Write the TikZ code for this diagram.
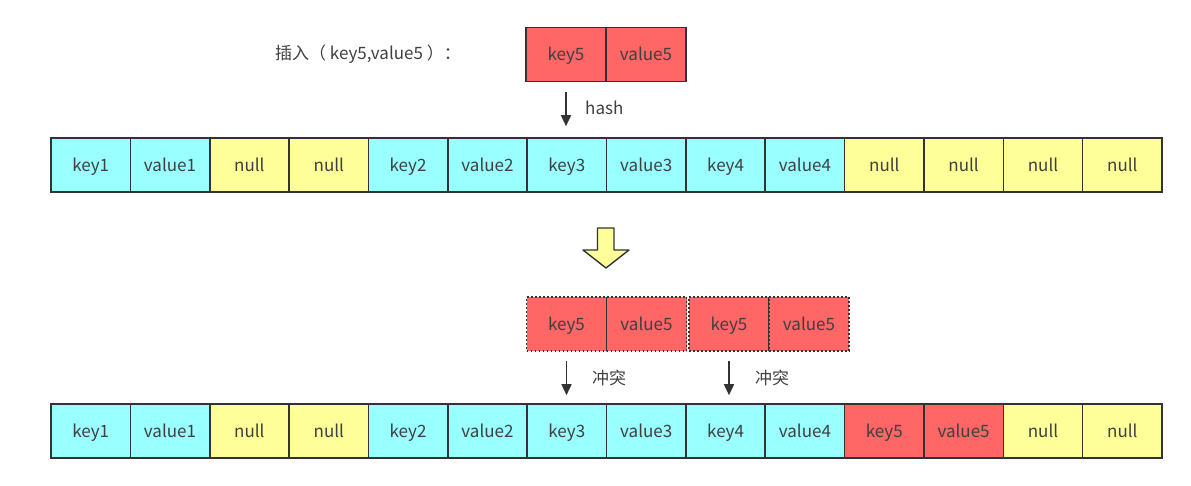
\documentclass[tikz,border=0pt]{standalone}
\usepackage{fontspec}
\setmainfont{Noto Sans CJK SC}
\usetikzlibrary{arrows.meta}
\definecolor{cellcyan}{HTML}{99FFFF}
\definecolor{cellyellow}{HTML}{FFFF99}
\definecolor{cellred}{HTML}{FF6666}
\definecolor{edge}{HTML}{333333}
\definecolor{ink}{HTML}{404040}
\tikzset{
  cell/.style = {draw = edge, line width = 1.6pt, minimum width = 79.4pt, minimum height = 54pt,
                 inner sep = 0pt, text = ink, text height = 13pt, text depth = 0pt,
                 font = \fontsize{17}{18}\selectfont},
  kv/.style   = {cell, fill = cellcyan},
  nul/.style  = {cell, fill = cellyellow},
  ins/.style  = {cell, fill = cellred, minimum width = 80pt},
  dot/.style  = {ins, line width = 1.8pt, dash pattern = on 1.8pt off 2.2pt},
  lbl/.style  = {text = ink, font = \fontsize{17}{18}\selectfont, inner sep = 0pt},
  down/.style = {draw = edge, line width = 1.6pt, -{Triangle[length = 11pt, width = 10pt]}}
}

\begin{document}
\begin{tikzpicture}[x = 1pt, y = -1pt]
		\useasboundingbox (0, 0) rectangle (1191, 486);
		%%%%%%%%%%%%%
		\node [lbl, anchor = west] (title) at (275, 54) {插入（ key5,value5 ）：};
		\node [ins] (tk) at (566, 54.5) {key5};
		\node [ins] (tv) at (646, 54.5) {value5};
		%%%%%%%%%%%%%
		\node [kv] (a1) at (90.7, 165) {key1};
		\node [kv] (a2) at (170.0, 165) {value1};
		\node [nul] (a3) at (249.4, 165) {null};
		\node [nul] (a4) at (328.8, 165) {null};
		\node [kv] (a5) at (408.1, 165) {key2};
		\node [kv] (a6) at (487.5, 165) {value2};
		\node [kv] (a7) at (566.8, 165) {key3};
		\node [kv] (a8) at (646.2, 165) {value3};
		\node [kv] (a9) at (725.6, 165) {key4};
		\node [kv] (a10) at (804.9, 165) {value4};
		\node [nul] (a11) at (884.3, 165) {null};
		\node [nul] (a12) at (963.6, 165) {null};
		\node [nul] (a13) at (1043.0, 165) {null};
		\node [nul] (a14) at (1122.3, 165) {null};
		%%%%%%%%%%%%%
		\draw [down] ([yshift = -10pt]tk.south) to ([yshift = 11pt]tk.south |- a7.north);
		\node [lbl, anchor = west] (hash) at (585, 108) {hash};
		%%%%%%%%%%%%% big arrow
		\draw [edge, fill = cellyellow, line width = 1.4pt, line join = round]
			(597.5, 228) -- (614, 228) -- (614, 250) -- (629, 250) -- (606, 268)
			-- (583, 250) -- (597.5, 250) -- cycle;
		%%%%%%%%%%%%%
		\node [dot] (dk1) at (566.5, 324) {key5};
		\node [dot] (dv1) at (646.5, 324) {value5};
		\node [dot] (dk2) at (729, 324) {key5};
		\node [dot] (dv2) at (809, 324) {value5};
		%%%%%%%%%%%%%
		\node [kv] (b1) at (90.7, 431) {key1};
		\node [kv] (b2) at (170.0, 431) {value1};
		\node [nul] (b3) at (249.4, 431) {null};
		\node [nul] (b4) at (328.8, 431) {null};
		\node [kv] (b5) at (408.1, 431) {key2};
		\node [kv] (b6) at (487.5, 431) {value2};
		\node [kv] (b7) at (566.8, 431) {key3};
		\node [kv] (b8) at (646.2, 431) {value3};
		\node [kv] (b9) at (725.6, 431) {key4};
		\node [kv] (b10) at (804.9, 431) {value4};
		\node [cell, fill = cellred] (b11) at (884.3, 431) {key5};
		\node [cell, fill = cellred] (b12) at (963.6, 431) {value5};
		\node [nul] (b13) at (1043.0, 431) {null};
		\node [nul] (b14) at (1122.3, 431) {null};
		%%%%%%%%%%%%%
		\draw [down] ([yshift = -9pt]dk1.south) to ([yshift = 8pt]dk1.south |- b7.north);
		\draw [down] ([yshift = -9pt]dk2.south) to ([yshift = 8pt]dk2.south |- b9.north);
		\node [lbl, anchor = west] (clash1) at (592, 378) {冲突};
		\node [lbl, anchor = west] (clash2) at (755, 378) {冲突};
\end{tikzpicture}
\end{document}
